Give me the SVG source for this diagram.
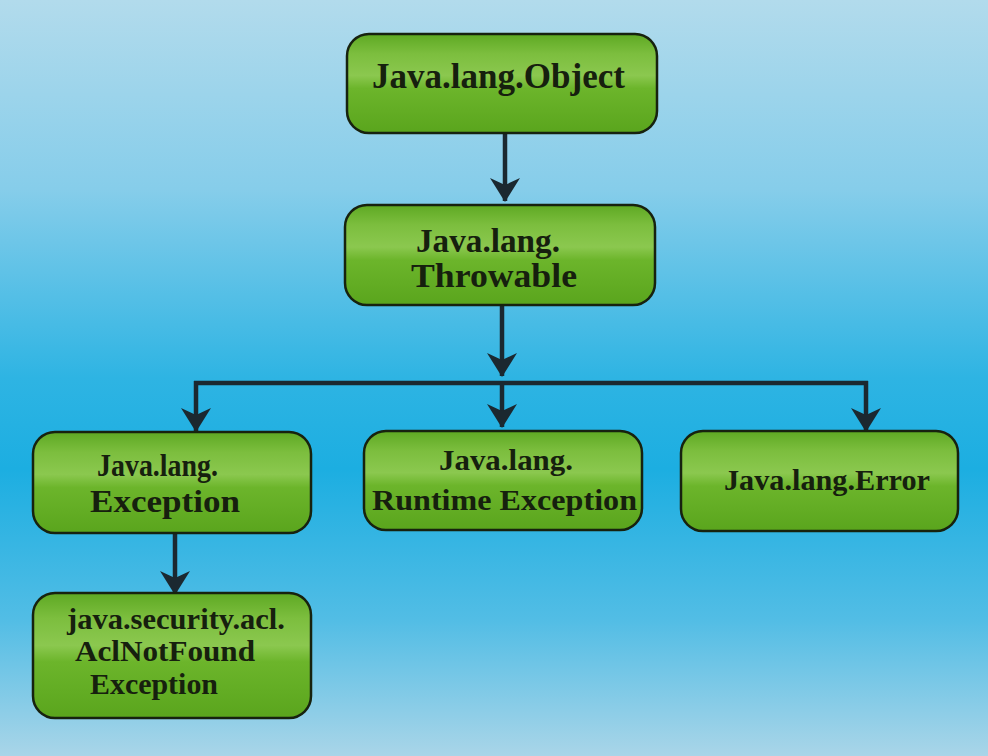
<svg xmlns="http://www.w3.org/2000/svg" width="988" height="756" viewBox="0 0 988 756">
  <defs>
    <linearGradient id="bg" x1="0" y1="0" x2="0" y2="1">
      <stop offset="0" stop-color="#b2dbec"/>
      <stop offset="0.25" stop-color="#86cdea"/>
      <stop offset="0.5" stop-color="#2eb4e3"/>
      <stop offset="0.62" stop-color="#1caee1"/>
      <stop offset="0.82" stop-color="#52bde5"/>
      <stop offset="1" stop-color="#a9d5e8"/>
    </linearGradient>
    <linearGradient id="box" x1="0" y1="0" x2="0" y2="1">
      <stop offset="0" stop-color="#5ea923"/>
      <stop offset="0.2" stop-color="#7cbe3e"/>
      <stop offset="0.42" stop-color="#8bc84f"/>
      <stop offset="0.55" stop-color="#6cb52b"/>
      <stop offset="1" stop-color="#5aa51d"/>
    </linearGradient>
    <marker id="arr" viewBox="0 0 24 30" refX="23" refY="15" markerWidth="24" markerHeight="30" markerUnits="userSpaceOnUse" orient="auto">
      <path d="M0,0 L24,15 L0,30 L7,15 z" fill="#1b2830"/>
    </marker>
  </defs>
  <style>
    .node rect { fill: url(#box); stroke: #17220f; stroke-width: 2.5; }
    .node text { font-family: "Liberation Serif", "DejaVu Serif", serif; font-weight: bold; fill: #16200e; }
    .conn line { stroke: #1b2830; stroke-width: 4.5; fill: none; }
    .conn line.a { marker-end: url(#arr); }
  </style>
  <rect x="0" y="0" width="988" height="756" fill="url(#bg)"/>

  <g id="connectors" class="conn">
    <line class="a" x1="505" y1="134" x2="505" y2="201"/>
    <line class="a" x1="502" y1="306" x2="502" y2="376"/>
    <line x1="194" y1="383" x2="868" y2="383"/>
    <line class="a" x1="196" y1="381" x2="196" y2="431"/>
    <line class="a" x1="502" y1="383" x2="502" y2="427"/>
    <line class="a" x1="866" y1="381" x2="866" y2="431"/>
    <line class="a" x1="175" y1="534" x2="175" y2="594"/>
  </g>

  <g id="object" class="node">
    <rect x="347" y="34" width="310" height="99" rx="22"/>
    <text x="372" y="88" font-size="35" textLength="253" lengthAdjust="spacingAndGlyphs">Java.lang.Object</text>
  </g>

  <g id="throwable" class="node">
    <rect x="345" y="205" width="310" height="100" rx="22"/>
    <text x="416" y="252" font-size="33" textLength="144" lengthAdjust="spacingAndGlyphs">Java.lang.</text>
    <text x="411" y="287" font-size="33" textLength="166" lengthAdjust="spacingAndGlyphs">Throwable</text>
  </g>

  <g id="exception" class="node">
    <rect x="33" y="432" width="278" height="101" rx="22"/>
    <text x="97" y="476" font-size="32" textLength="121" lengthAdjust="spacingAndGlyphs">Java.lang.</text>
    <text x="90" y="512" font-size="32" textLength="150" lengthAdjust="spacingAndGlyphs">Exception</text>
  </g>

  <g id="runtime" class="node">
    <rect x="364" y="431" width="278" height="99" rx="22"/>
    <text x="439" y="470" font-size="30" textLength="134" lengthAdjust="spacingAndGlyphs">Java.lang.</text>
    <text x="372" y="510" font-size="30" textLength="265" lengthAdjust="spacingAndGlyphs">Runtime Exception</text>
  </g>

  <g id="error" class="node">
    <rect x="681" y="431" width="277" height="100" rx="22"/>
    <text x="724" y="490" font-size="30" textLength="206" lengthAdjust="spacingAndGlyphs">Java.lang.Error</text>
  </g>

  <g id="aclnotfound" class="node">
    <rect x="33" y="593" width="278" height="125" rx="22"/>
    <text x="67" y="629" font-size="29" textLength="218" lengthAdjust="spacingAndGlyphs">java.security.acl.</text>
    <text x="75" y="661" font-size="29" textLength="180" lengthAdjust="spacingAndGlyphs">AclNotFound</text>
    <text x="90" y="694" font-size="29" textLength="128" lengthAdjust="spacingAndGlyphs">Exception</text>
  </g>
</svg>
